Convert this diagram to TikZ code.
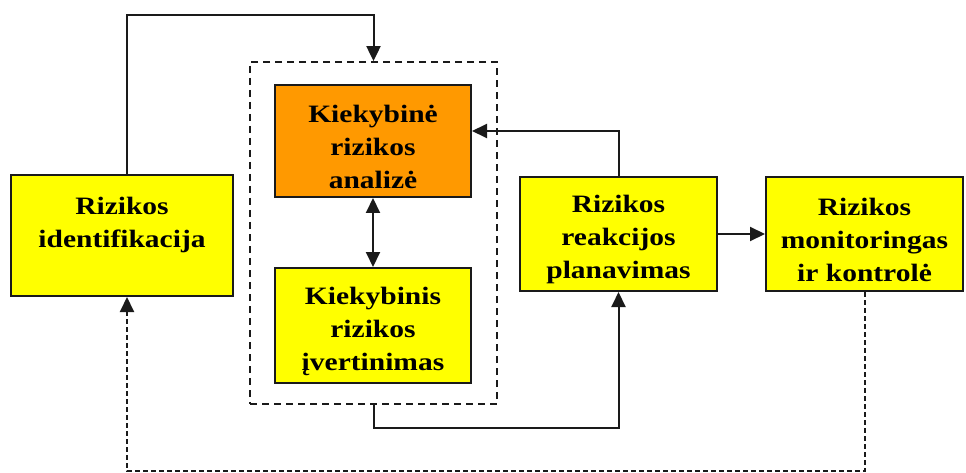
\documentclass[tikz,border=0pt]{standalone}
\usepackage{fontspec}
\setmainfont{Liberation Serif}[FakeStretch=1.18]
\usetikzlibrary{arrows.meta,calc}
\definecolor{boxyellow}{HTML}{FFFF00}
\definecolor{boxorange}{HTML}{FF9900}
\definecolor{edge}{HTML}{1A1A1A}
% taller first line, nudges three-line labels slightly downwards
\newcommand{\stagestrut}{\rule{0pt}{29pt}}
\begin{document}
\begin{tikzpicture}[x=1pt,y=-1pt,
  stagebox/.style={draw=edge,line width=2pt,fill=boxyellow,align=center,
    inner sep=0pt,font=\bfseries\fontsize{25}{33}\selectfont},
  arr/.style={line width=2pt,draw=edge,-{Triangle[length=15pt,width=14pt]}},
  dblarr/.style={line width=2pt,draw=edge,{Triangle[length=15pt,width=14pt]}-{Triangle[length=15pt,width=14pt]}},
  grouprect/.style={draw=edge,line width=1.8pt,dash pattern=on 7pt off 5pt,inner sep=0pt},
  fbarr/.style={line width=2pt,draw=edge,dash pattern=on 5pt off 3pt,-{Triangle[length=15pt,width=14pt]}}]
\useasboundingbox (0,0) rectangle (966,473);

% process stages
\node[stagebox,minimum width=222pt,minimum height=121pt,text depth=26pt] (ident) at (122,235.5)
  {Rizikos\\identifikacija};
\node[stagebox,fill=boxorange,minimum width=196pt,minimum height=112pt] (anal) at (373,141)
  {\stagestrut Kiekybinė\\rizikos\\analizė};
\node[stagebox,minimum width=196pt,minimum height=115pt] (ivert) at (373,325.5)
  {\stagestrut Kiekybinis\\rizikos\\įvertinimas};
\node[stagebox,minimum width=197pt,minimum height=114pt] (plan) at (618.5,234)
  {\stagestrut Rizikos\\reakcijos\\planavimas};
\node[stagebox,minimum width=197pt,minimum height=114pt] (mon) at (864.5,234)
  {\stagestrut Rizikos\\monitoringas\\ir kontrolė};

% quantitative analysis group
\node[grouprect,minimum width=247pt,minimum height=342pt] (group) at (373.5,233) {};

% helper points for routed connectors
\coordinate (topy) at (0,15);
\coordinate (backy) at (0,131);
\coordinate (lowy) at (0,428);
\coordinate (fby) at (0,471);
\coordinate (identtop) at ([xshift=5pt]ident.north);
\coordinate (identbot) at ([xshift=5pt]ident.south);

% connectors
\draw[arr] (identtop) -- (identtop |- topy) -- (group.north |- topy) -- (group.north);
\draw[arr] (plan.north) -- (plan.north |- backy) -- (anal.east |- backy);
\draw[dblarr] (anal.south) -- (ivert.north);
\draw[arr] (group.south) -- (group.south |- lowy) -- (plan.south |- lowy) -- (plan.south);
\draw[arr] (plan.east) -- (mon.west);
\draw[fbarr] (mon.south) -- (mon.south |- fby) -- (identbot |- fby) -- (identbot);
\end{tikzpicture}
\end{document}
